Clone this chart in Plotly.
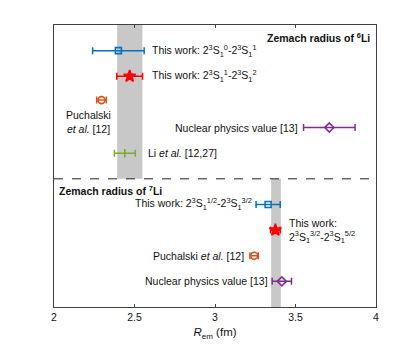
import plotly.graph_objects as go

# ---- data ----
li6_labels = ["This work: 2<sup>3</sup>S<sub>1</sub><sup>0</sup>-2<sup>3</sup>S<sub>1</sub><sup>1</sup>",
              "This work: 2<sup>3</sup>S<sub>1</sub><sup>1</sup>-2<sup>3</sup>S<sub>1</sub><sup>2</sup>",
              "Puchalski<br><i>et al.</i> [12]",
              "Nuclear physics value [13]",
              "Li <i>et al.</i> [12,27]"]
li6_values = [2.40, 2.47, 2.295, 3.71, 2.44]
li6_errors = [0.16, 0.08, 0.03, 0.16, 0.065]

li7_labels = ["This work: 2<sup>3</sup>S<sub>1</sub><sup>1/2</sup>-2<sup>3</sup>S<sub>1</sub><sup>3/2</sup>",
              "This work:<br>2<sup>3</sup>S<sub>1</sub><sup>3/2</sup>-2<sup>3</sup>S<sub>1</sub><sup>5/2</sup>",
              "Puchalski <i>et al.</i> [12]",
              "Nuclear physics value [13]"]
li7_values = [3.33, 3.375, 3.243, 3.415]
li7_errors = [0.075, 0.03, 0.026, 0.06]

band6 = [2.392, 2.549]
band7 = [3.349, 3.409]

x_ticks = [2, 2.5, 3, 3.5, 4]

# ---- styling / layout ----
rows6 = [10, 9, 8.07, 7, 6]
rows7 = [4, 3, 2, 1]
colors = ["#0072BD", "#FF0000", "#D95319", "#7E2F8E", "#77AC30"]
symbols = ["square-open", "star", "circle-open", "diamond-open", "line-ns"]
sizes = [6, 9, 7, 7, 6]

fig = go.Figure()

def add_point(x, err, y, c, s, sz):
    fig.add_trace(go.Scatter(
        x=[x], y=[y], mode="markers",
        marker=dict(color=c, symbol=s, size=sz,
                    line=dict(color=c, width=1.6)),
        error_x=dict(type="data", array=[err], color=c, thickness=1.5, width=3.5),
        showlegend=False, hoverinfo="skip"))

for i in range(5):
    add_point(li6_values[i], li6_errors[i], rows6[i], colors[i], symbols[i], sizes[i])
for i in range(4):
    add_point(li7_values[i], li7_errors[i], rows7[i], colors[i], symbols[i], sizes[i])

shapes = [
    dict(type="rect", xref="x", yref="y", x0=band6[0], x1=band6[1], y0=5, y1=11,
         fillcolor="#C8C8C8", line=dict(width=0), layer="below"),
    dict(type="rect", xref="x", yref="y", x0=band7[0], x1=band7[1], y0=0, y1=5,
         fillcolor="#C8C8C8", line=dict(width=0), layer="below"),
    dict(type="line", xref="paper", yref="y", x0=0, x1=1, y0=5, y1=5,
         line=dict(color="#222222", width=1, dash="dash")),
]

FS = 10.5
font = dict(family="Liberation Sans, Arial, sans-serif", size=FS, color="#111111")
ann = []
def A(x, y, text, xanchor, bold=False, size=FS):
    t = "<b>%s</b>" % text if bold else text
    ann.append(dict(x=x, y=y, xref="x", yref="y", text=t, showarrow=False,
                    xanchor=xanchor, yanchor="middle",
                    align="left" if xanchor == "left" else "center",
                    font=dict(font, size=size)))

A(3.975, 10.5, "Zemach radius of <sup>6</sup>Li", "right", bold=True)
A(2.595, 10, li6_labels[0], "left")
A(2.595, 9, li6_labels[1], "left")
A(2.215, 7.2, li6_labels[2], "center")
A(3.53, 7, li6_labels[3], "right")
A(2.57, 6, li6_labels[4], "left")

A(2.02, 4.56, "Zemach radius of <sup>7</sup>Li", "left", bold=True)
A(3.24, 4, li7_labels[0], "right")
A(3.45, 2.98, li7_labels[1], "left")
A(3.195, 2, li7_labels[2], "right")
A(3.34, 1, li7_labels[3], "right")

fig.update_layout(
    width=407, height=340,
    margin=dict(l=45.5, r=39.3, t=17, b=41),
    paper_bgcolor="white", plot_bgcolor="white",
    shapes=shapes, annotations=ann,
    font=font,
    xaxis=dict(range=[2, 4], tickvals=x_ticks, ticktext=[str(v) for v in x_ticks],
               ticks="inside", ticklen=3, tickcolor="#404040", mirror="ticks",
               showline=True, linecolor="#404040", linewidth=1, showgrid=False,
               zeroline=False, tickfont=dict(font, size=FS),
               title=dict(text="<i>R</i><sub>em</sub> (fm)", font=dict(font, size=11.5), standoff=6)),
    yaxis=dict(range=[0, 11], showticklabels=False, ticks="", mirror=True,
               showline=True, linecolor="#404040", linewidth=1, showgrid=False,
               zeroline=False),
)

fig.write_html("out.html")
